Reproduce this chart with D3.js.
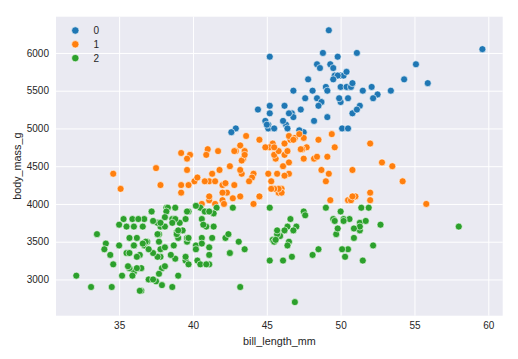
<!DOCTYPE html>
<html>
<head>
<meta charset="utf-8">
<script src="https://cdn.jsdelivr.net/npm/d3@7"></script>
<style>
  html, body { margin: 0; padding: 0; background: #ffffff; }
  svg { display: block; }
  text { font-family: "Liberation Sans", Arial, sans-serif; fill: #262626; }
</style>
</head>
<body>
<svg id="chart" width="518" height="359"></svg>
<script>
// ---- Data: [bill_length_mm, body_mass_g] per cluster ----
const cluster0 = [
  [50,5700],[50,5700],[47.6,5400],[46.7,5200],[46.8,5150],[49,5550],[48.4,5850],[49.3,5850],
  [49.2,6300],[48.7,5350],[50.2,5700],[45.1,5000],[46.3,5050],[42.9,5000],[46.1,5100],[47.8,5650],
  [50,5550],[47.3,5250],[45.1,5050],[59.6,6050],[49.1,5150],[48.4,5400],[42.6,4950],[44.4,5250],
  [48.7,5350],[49.6,5700],[50.5,5550],[50.5,5400],[44.9,5100],[45.2,5300],[48.5,5300],[50.1,5000],
  [45,5050],[45.5,5000],[50.4,5550],[46.2,5300],[54.3,5650],[49.8,5700],[49.5,5800],[50.7,5550],
  [46.4,5000],[48.2,5100],[46.5,5200],[48.6,5800],[51.1,6000],[45.2,5950],[52.5,5450],[50,5350],
  [50.8,5600],[51.3,5300],[52.1,5550],[47.5,4950],[52.2,5400],[49.5,5650],[50.8,5200],[51.1,5250],
  [55.9,5600],[47.2,4975],[49.1,5500],[46.8,5500],[53.4,5500],[48.1,5500],[50.5,5000],[49.8,5950],
  [51.5,5500],[55.1,5850],[48.8,6000],[50.4,5750],[45.2,5200],[49.9,5400]
];
const cluster1 = [
  [39.2,4675],[42,4250],[34.6,4400],[42.5,4500],[46,4200],[39.2,4150],[39.8,4650],[44.1,4400],
  [39.6,4600],[42.3,4150],[40.1,4300],[42,4050],[41.3,4400],[41.1,4050],[41.1,4100],[41.8,4450],
  [45.8,4150],[42.8,4250],[42.1,4000],[42.9,4700],[35.1,4200],[41.1,4300],[39.6,4450],[40.8,4300],
  [40.3,4350],[43.2,4100],[41,4725],[37.8,4250],[43.2,4775],[45.6,4600],[42.2,4275],[42.7,4075],
  [40.6,4000],[41.5,4300],[44.1,4000],[37.5,4475],[39.7,4250],[39.2,4250],[41.5,4000],
  [46,4150],[52,4050],[50.5,4050],[49.2,4400],[52,4150],[52.8,4550],[54.2,4300],[51,4100],
  [52,4800],[53.5,4500],[50.8,4450],[49,4300],[50.7,4050],[49.3,4050],[55.8,4000],[50.8,4100],
  [46.1,4500],[48.7,4450],[46.5,4550],[45.4,4800],[43.3,4400],[40.9,4650],[45.5,4650],[45.8,4200],
  [42,4150],[46.2,4800],[46.5,4400],[44.5,4100],[48.2,4600],[42.8,4700],[44,4350],[45.3,4300],
  [49.6,4750],[43.6,4900],[45.5,4200],[46.6,4850],[45.1,4400],[46.5,4900],[43.8,4300],[43.2,4450],
  [45.3,4200],[45.7,4400],[45.8,4700],[46.2,4650],[43.5,4700],[47.7,4750],[46.4,4700],[47.5,4600],
  [45.2,4750],[49.1,4625],[47.4,4725],[44.9,4750],[43.4,4600],[47.5,4875],[45.5,4750],[44.5,4850],
  [49.4,4925],[46.9,4875],[48.4,4625],[48.5,4850],[47.3,4725],[41.7,4700],[43.3,4575],[43.5,4650],
  [46.2,4375],[47.2,4925],[46.8,4850]
];
const cluster2 = [
  [39.1,3750],[39.5,3800],[40.3,3250],[36.7,3450],[39.3,3650],[38.9,3625],[34.1,3475],[37.8,3300],
  [37.8,3700],[41.1,3200],[38.6,3800],[36.6,3700],[38.7,3450],[34.4,3325],[37.8,3400],[37.7,3600],
  [35.9,3800],[38.2,3950],[38.8,3800],[35.3,3800],[40.6,3550],[40.5,3200],[37.9,3150],[40.5,3950],
  [39.5,3250],[37.2,3900],[39.5,3300],[40.9,3900],[36.4,3325],[38.8,3950],[42.2,3550],[37.6,3300],
  [36.5,3150],[40.8,3900],[36,3100],[37,3000],[41.1,3425],[37.5,2975],[36,3450],[39.6,3500],
  [35,3450],[34.5,2900],[41.4,3700],[39,3550],[40.6,3800],[36.5,2850],[37.6,3750],[35.7,3150],
  [37.6,3600],[36.4,2850],[41.6,3950],[35.5,3350],[35.9,3050],[33.5,3600],[39.7,3900],[39.6,3550],
  [35.5,3700],[40.9,3700],[37.2,3900],[36.2,3550],[34.6,3200],[36.7,3800],[37.3,3350],[41.3,3550],
  [36.3,3800],[36.9,3500],[38.3,3950],[38.9,3600],[35.7,3550],[34,3400],[36.2,3300],[38.1,3700],
  [33.1,2900],[35,3725],[37.7,3075],[37.9,2925],[39.7,3550],[38.6,3750],[38.2,3900],[38.1,3175],
  [38.1,3825],[39.7,3200],[39.6,3900],[38.6,2900],[37.3,3775],[35.7,3350],[41.1,3325],[36.2,3150],
  [37.7,3500],[40.2,3450],[41.4,3875],[35.2,3050],[38.8,3275],[39,3050],[38.5,3325],[43.1,3500],
  [36.8,3500],[38.1,3425],[41.1,3900],[35.6,3175],[40.2,3975],[37,3400],[40.2,3400],[40.6,3475],
  [32.1,3050],[40.7,3725],[37.3,3000],[39,3650],[36.6,3475],[36,3450],[37.8,3750],[36,3700],
  [46.5,3500],[50,3900],[51.3,3650],[45.4,3525],[52.7,3725],[45.2,3950],[46.1,3250],[51.3,3750],
  [51.3,3700],[46.6,3800],[51.7,3775],[47,3700],[45.9,3575],[50.3,3300],[58,3700],[46.4,3450],
  [42.4,3600],[48.5,3400],[43.2,2900],[50.6,3800],[46.7,3300],[50.5,3400],[49.5,3800],[46.4,3700],
  [40.9,3200],[42.5,3350],[49.7,3600],[47.5,3900],[47.6,3850],[46.9,2700],[49,3950],[46.2,3650],
  [50.9,3550],[45.5,3500],[50.9,3675],[50.1,3400],[51.5,3250],[49.8,3675],[48.1,3325],[51.4,3950],
  [45.7,3600],[42.5,3350],[52.2,3450],[45.2,3250],[50.2,3800],[45.6,3525],[51.9,3950],[46.8,3650],
  [45.7,3650],[43.5,3400],[49.6,3775],[50.2,3775],[42.7,3950]
];
const clusterNames = ["0", "1", "2"];
const clusterColors = ["#1f77b4", "#ff7f0e", "#2ca02c"];
const xTicks = [35, 40, 45, 50, 55, 60];
const yTicks = [3000, 3500, 4000, 4500, 5000, 5500, 6000];
const xLabel = "bill_length_mm";
const yLabel = "body_mass_g";

// ---- Layout ----
const svg = d3.select("#chart");
const plot = { left: 56, right: 502.7, top: 16.7, bottom: 315.7 };

const x = d3.scaleLinear().domain([30.725, 60.975]).range([plot.left, plot.right]);
const y = d3.scaleLinear().domain([2520, 6480]).range([plot.bottom, plot.top]);

// background
svg.append("rect")
  .attr("x", plot.left).attr("y", plot.top)
  .attr("width", plot.right - plot.left).attr("height", plot.bottom - plot.top)
  .attr("fill", "#EAEAF2");

// grid via axes
const xAxis = d3.axisBottom(x).tickValues(xTicks).tickFormat(d3.format("d"))
  .tickSize(-(plot.bottom - plot.top)).tickPadding(6);
const yAxis = d3.axisLeft(y).tickValues(yTicks).tickFormat(d3.format("d"))
  .tickSize(-(plot.right - plot.left)).tickPadding(7);

const gx = svg.append("g").attr("transform", `translate(0,${plot.bottom})`).call(xAxis);
const gy = svg.append("g").attr("transform", `translate(${plot.left},0)`).call(yAxis);

[gx, gy].forEach(g => {
  g.select(".domain").remove();
  g.selectAll(".tick line").attr("stroke", "#ffffff").attr("stroke-width", 1);
  g.selectAll(".tick text").attr("font-size", "10px").attr("fill", "#262626")
    .style("font-family", "'Liberation Sans', Arial, sans-serif");
});
gx.selectAll(".tick text").attr("dy", "0.71em").attr("y", 6.5);

// axis labels
svg.append("text")
  .attr("x", (plot.left + plot.right) / 2).attr("y", 344.5)
  .attr("text-anchor", "middle").attr("font-size", "10.8px")
  .text(xLabel);
svg.append("text")
  .attr("transform", `translate(21,${(plot.top + plot.bottom) / 2}) rotate(-90)`)
  .attr("text-anchor", "middle").attr("font-size", "10.8px")
  .text(yLabel);

// points
const groups = [cluster0, cluster1, cluster2];
const pts = svg.append("g");
groups.forEach((arr, i) => {
  pts.selectAll(null).data(arr).enter().append("circle")
    .attr("cx", d => x(d[0]))
    .attr("cy", d => y(d[1]))
    .attr("r", 3.5)
    .attr("fill", clusterColors[i])
    .attr("stroke", "#ffffff")
    .attr("stroke-width", 0.6);
});

// legend
const leg = svg.append("g");
clusterNames.forEach((name, i) => {
  const ly = 30.5 + i * 13.8;
  leg.append("circle").attr("cx", 75.3).attr("cy", ly).attr("r", 3.7)
    .attr("fill", clusterColors[i]).attr("stroke", "#ffffff").attr("stroke-width", 0.6);
  leg.append("text").attr("x", 93.5).attr("y", ly).attr("dy", "0.35em")
    .attr("font-size", "10px").text(name);
});
</script>
</body>
</html>
